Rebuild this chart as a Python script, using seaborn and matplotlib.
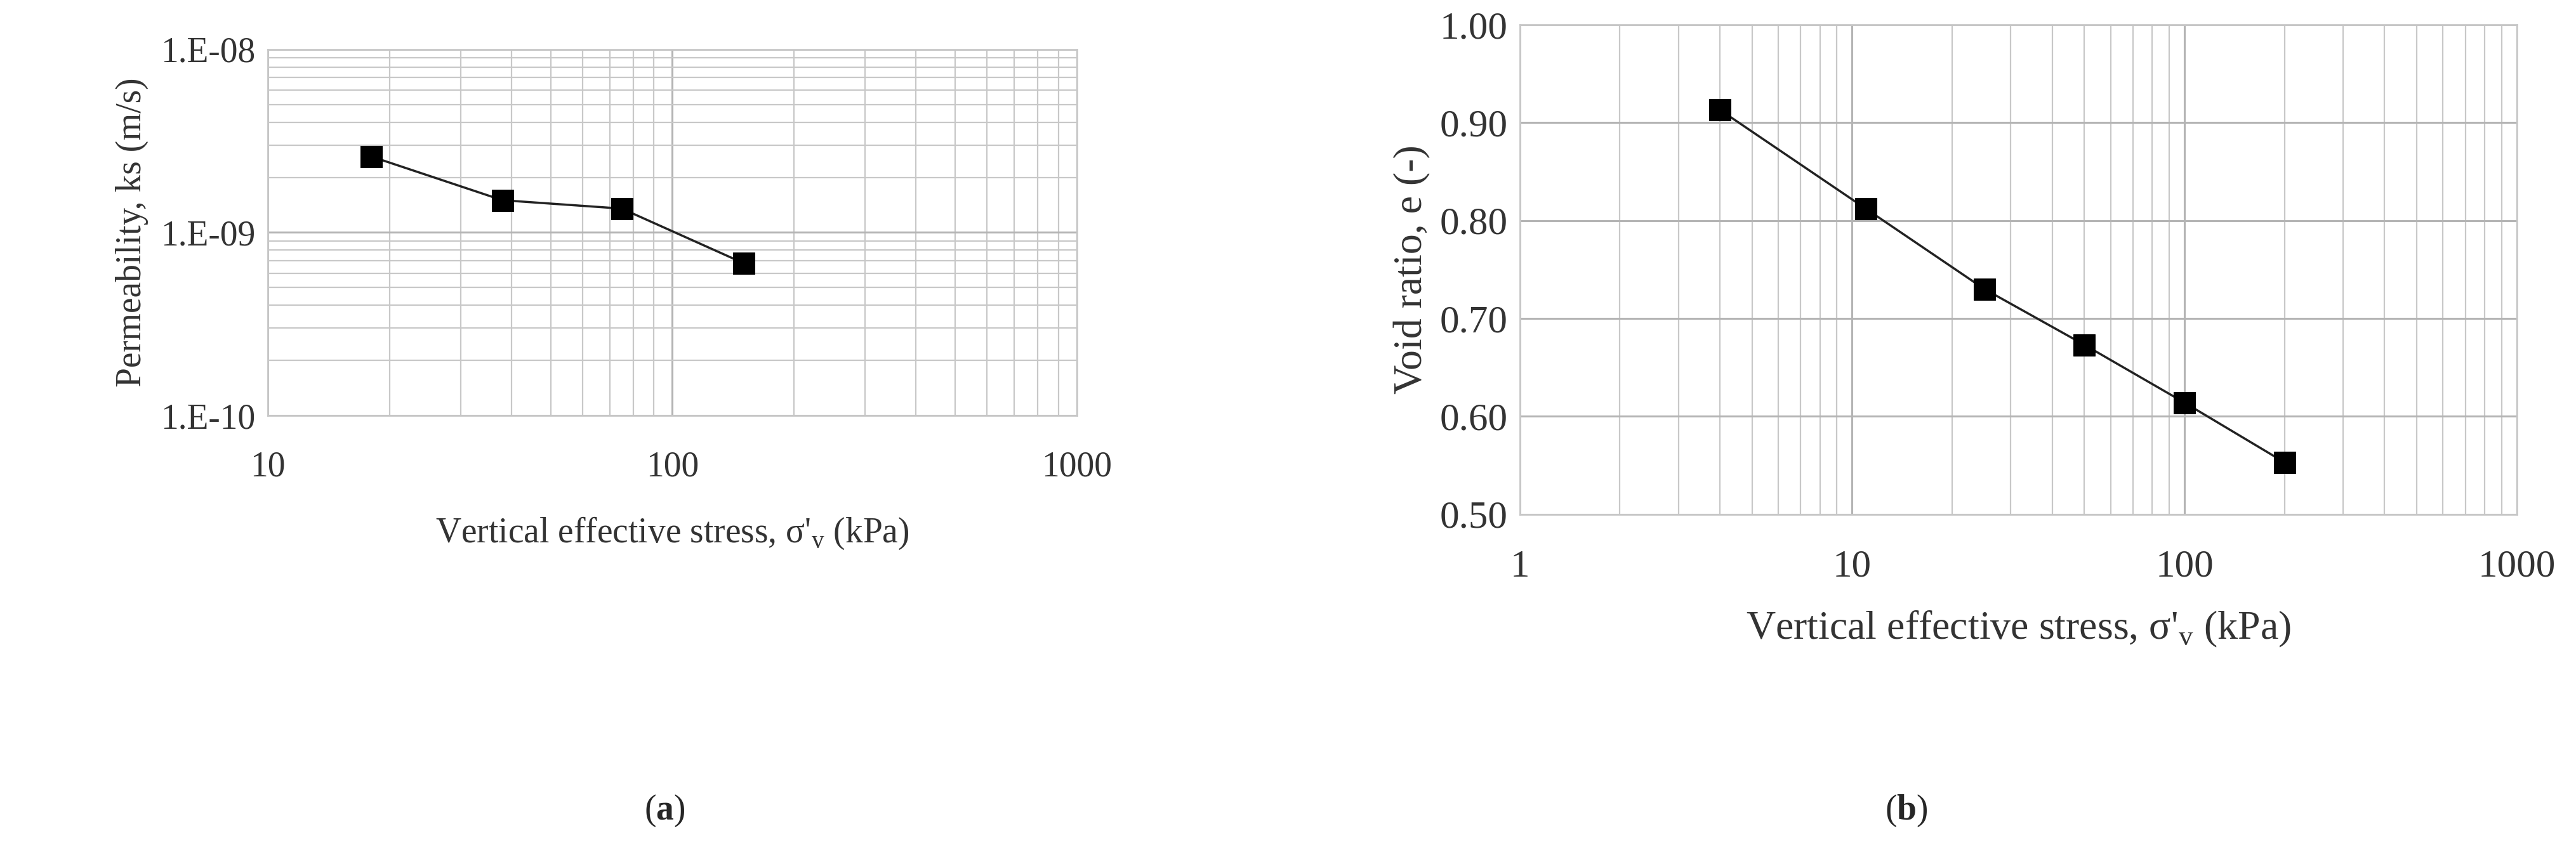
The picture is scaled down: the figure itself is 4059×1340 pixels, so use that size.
import matplotlib
matplotlib.use("Agg")
import matplotlib.pyplot as plt
import seaborn as sns
import pandas as pd
from matplotlib.ticker import FixedLocator, FixedFormatter, LogLocator, NullFormatter

sns.set_theme(style="white")
plt.rcParams['font.family'] = ['Liberation Serif', 'DejaVu Serif']
plt.rcParams['mathtext.fontset'] = 'custom'
plt.rcParams['mathtext.rm'] = 'Liberation Serif'
plt.rcParams['mathtext.bf'] = 'Liberation Serif:bold'

stress_a = [18, 38, 75, 150]
perm_a = [2.6e-9, 1.5e-9, 1.35e-9, 6.8e-10]
stress_b = [4, 11, 25, 50, 100, 200]
void_b = [0.913, 0.812, 0.730, 0.673, 0.614, 0.553]
ytick_a = [1e-10, 1e-9, 1e-8]
ytick_a_labels = ["1.E-10", "1.E-09", "1.E-08"]
xtick_a = [10, 100, 1000]
xtick_b = [1, 10, 100, 1000]
ytick_b = [0.5, 0.6, 0.7, 0.8, 0.9, 1.0]

fig = plt.figure(figsize=(40.59, 13.4), dpi=100)
axa = fig.add_axes([0.104, 0.511, 0.314, 0.431])
axb = fig.add_axes([0.590, 0.395, 0.387, 0.576])

fs = 40
grid_c = "#c8c8c8"

def style(ax, f):
    ax.grid(True, which='major', color="#b4b4b4", lw=2.2)
    ax.grid(True, which='minor', color=grid_c, lw=1.6)
    for s in ax.spines.values():
        s.set_color(grid_c); s.set_linewidth(2)
    ax.tick_params(which='both', length=0, labelsize=f, colors="#333333", pad=14)

da = pd.DataFrame({"x": stress_a, "y": perm_a})
sns.lineplot(data=da, x="x", y="y", ax=axa, color="#222222", lw=2.5, marker="s",
             markersize=24, markerfacecolor="black", markeredgecolor="black")
axa.set_xscale("log"); axa.set_yscale("log")
axa.set_xlim(10, 1000); axa.set_ylim(1e-10, 1e-8)
axa.yaxis.set_major_locator(FixedLocator(ytick_a))
axa.yaxis.set_major_formatter(FixedFormatter(ytick_a_labels))
axa.yaxis.set_minor_locator(LogLocator(base=10, subs=range(2, 10)))
axa.yaxis.set_minor_formatter(NullFormatter())
axa.xaxis.set_major_locator(FixedLocator(xtick_a))
axa.xaxis.set_major_formatter(FixedFormatter([str(v) for v in xtick_a]))
axa.xaxis.set_minor_locator(LogLocator(base=10, subs=range(2, 10)))
axa.xaxis.set_minor_formatter(NullFormatter())
style(axa, fs)
axa.tick_params(axis='x', pad=40)
axa.set_xlabel("Vertical effective stress, σ'$_{\\mathregular{v}}$ (kPa)", fontsize=fs, color="#333333", labelpad=36)
axa.set_ylabel("Permeability, ks (m/s)", fontsize=fs, color="#333333", labelpad=14)

db = pd.DataFrame({"x": stress_b, "y": void_b})
sns.lineplot(data=db, x="x", y="y", ax=axb, color="#222222", lw=2.5, marker="s",
             markersize=24, markerfacecolor="black", markeredgecolor="black")
axb.set_xscale("log")
axb.set_xlim(1, 1000); axb.set_ylim(0.5, 1.0)
axb.yaxis.set_major_locator(FixedLocator(ytick_b))
axb.yaxis.set_major_formatter(FixedFormatter([f"{v:.2f}" for v in ytick_b]))
axb.xaxis.set_major_locator(FixedLocator(xtick_b))
axb.xaxis.set_major_formatter(FixedFormatter([str(v) for v in xtick_b]))
axb.xaxis.set_minor_locator(LogLocator(base=10, subs=range(2, 10)))
axb.xaxis.set_minor_formatter(NullFormatter())
style(axb, fs + 4)
axb.grid(False, which='minor', axis='y')
axb.tick_params(axis='x', pad=40)
axb.set_xlabel("Vertical effective stress, σ'$_{\\mathregular{v}}$ (kPa)", fontsize=fs + 6, color="#333333", labelpad=28)
axb.set_ylabel("Void ratio, e (-)", fontsize=fs + 6, color="#333333", labelpad=10)

fig.text(0.258, 0.046, "($\\mathbf{a}$)", fontsize=fs, ha="center", va="center")
fig.text(0.740, 0.046, "($\\mathbf{b}$)", fontsize=fs, ha="center", va="center")

fig.savefig("out.png", dpi=100, facecolor="white")
